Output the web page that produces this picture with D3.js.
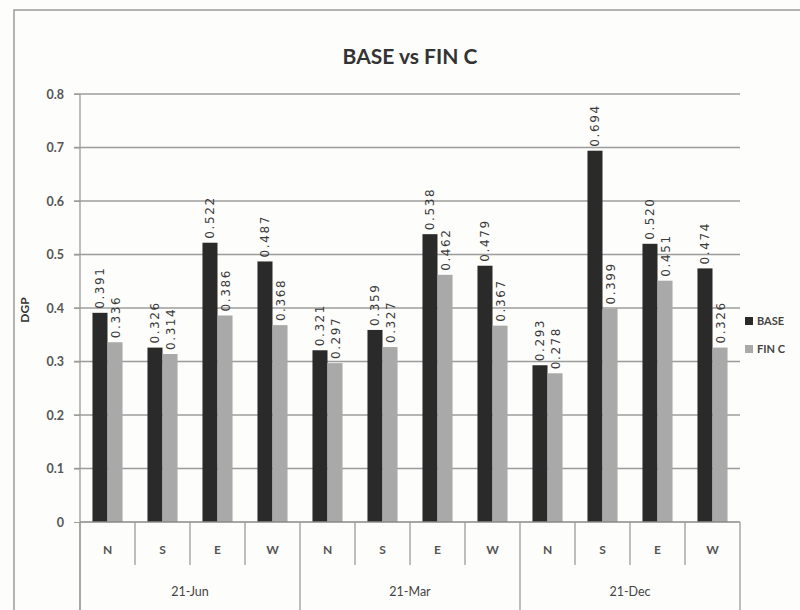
<!DOCTYPE html>
<html><head><meta charset="utf-8">
<script src="https://cdn.jsdelivr.net/npm/d3@7"></script>
<style>body{margin:0;background:#fdfdfb;} svg{display:block;}</style>
</head><body><svg id="c" width="800" height="610"></svg>
<script>
const groups = ["21-Jun", "21-Mar", "21-Dec"];
const directions = ["N", "S", "E", "W"];
const seriesNames = ["BASE", "FIN C"];
const baseValues = [0.391, 0.326, 0.522, 0.487, 0.321, 0.359, 0.538, 0.479, 0.293, 0.694, 0.520, 0.474];
const fincValues = [0.336, 0.314, 0.386, 0.368, 0.297, 0.327, 0.462, 0.367, 0.278, 0.399, 0.451, 0.326];
const yTicks = [0, 0.1, 0.2, 0.3, 0.4, 0.5, 0.6, 0.7, 0.8];
const colors = ["#2a2a2a", "#a9a9a9"];

const svg = d3.select("#c");
const font = "Lato, 'Open Sans', sans-serif";
const M = {l: 80, r: 740, t: 94, b: 522};

// outer frame
svg.append("rect").attr("x", 14).attr("y", 10).attr("width", 800).attr("height", 620)
  .attr("fill", "#fdfdfb").attr("stroke", "#9a9a9a").attr("stroke-width", 1.5);

const cats = [];
groups.forEach(g => directions.forEach(d => cats.push(g + "|" + d)));
const x = d3.scaleBand().domain(cats).range([M.l, M.r]);
const xs = d3.scaleBand().domain([0, 1]).range([0, x.bandwidth()]).paddingOuter(0.83).paddingInner(0);
const y = d3.scaleLinear().domain([0, 0.8]).range([M.b, M.t]);

// gridlines
svg.append("g").selectAll("line").data(yTicks.filter(t => t > 0)).join("line")
  .attr("x1", M.l - 6).attr("x2", M.r).attr("y1", d => y(d)).attr("y2", d => y(d))
  .attr("stroke", "#9c9c9c").attr("stroke-width", 1.3);

// y axis
const yAxis = d3.axisLeft(y).tickValues(yTicks).tickFormat(d => d === 0 ? "0" : d3.format(".1f")(d)).tickSize(6).tickPadding(10);
const ya = svg.append("g").attr("transform", `translate(${M.l},0)`).call(yAxis);
ya.select(".domain").remove();
ya.selectAll(".tick line").attr("stroke", "#9c9c9c");
ya.selectAll("text").attr("font-family", font).attr("font-size", 12.5).attr("font-weight", "bold").attr("fill", "#555");
svg.append("line").attr("x1", M.l).attr("x2", M.l).attr("y1", M.t).attr("y2", 612).attr("stroke", "#9c9c9c").attr("stroke-width", 1.3);

// bars
const data = [];
cats.forEach((c, i) => { data.push({c, s: 0, v: baseValues[i]}); data.push({c, s: 1, v: fincValues[i]}); });
svg.append("g").selectAll("rect").data(data).join("rect")
  .attr("x", d => x(d.c) + xs(d.s)).attr("width", xs.bandwidth())
  .attr("y", d => y(d.v)).attr("height", d => y(0) - y(d.v))
  .attr("fill", d => colors[d.s]);

// labels
svg.append("g").selectAll("text").data(data).join("text")
  .attr("transform", d => `translate(${x(d.c) + xs(d.s) + xs.bandwidth() / 2 + 4.5},${y(d.v) - 4}) rotate(-90)`)
  .attr("font-family", "'DejaVu Sans', sans-serif").attr("font-size", 12).attr("letter-spacing", 1.6)
  .attr("fill", "#3a3a3a").text(d => d3.format(".3f")(d.v));

// baseline
svg.append("line").attr("x1", M.l).attr("x2", M.r).attr("y1", M.b).attr("y2", M.b).attr("stroke", "#888").attr("stroke-width", 1.3);

// category separators
const bounds = cats.map(c => x(c)).concat([M.r]);
svg.append("g").selectAll("line").data(bounds).join("line")
  .attr("x1", d => d).attr("x2", d => d).attr("y1", M.b)
  .attr("y2", (d, i) => (i % 4 === 0) ? 612 : 565)
  .attr("stroke", "#9c9c9c").attr("stroke-width", 1.3);

svg.append("g").selectAll("text").data(cats).join("text")
  .attr("x", d => x(d) + x.bandwidth() / 2).attr("y", 554).attr("text-anchor", "middle")
  .attr("font-family", font).attr("font-size", 12).attr("font-weight", "bold").attr("fill", "#555")
  .text(d => d.split("|")[1]);

svg.append("g").selectAll("text").data(groups).join("text")
  .attr("x", g => (x(g + "|N") + x(g + "|W") + x.bandwidth()) / 2).attr("y", 596).attr("text-anchor", "middle")
  .attr("font-family", font).attr("font-size", 12.5).attr("fill", "#444")
  .text(g => g);

// y title
svg.append("text").attr("transform", "translate(29,310) rotate(-90)").attr("text-anchor", "middle")
  .attr("font-family", font).attr("font-size", 12).attr("font-weight", "bold").attr("fill", "#333").text("DGP");

// title
svg.append("text").attr("x", 410).attr("y", 64).attr("text-anchor", "middle")
  .attr("font-family", font).attr("font-size", 21).attr("font-weight", "bold").attr("fill", "#333").text("BASE vs FIN C");

// legend
const lg = svg.append("g").selectAll("g").data(seriesNames).join("g")
  .attr("transform", (d, i) => `translate(745,${322 + i * 28})`);
lg.append("rect").attr("x", 0).attr("y", -5).attr("width", 8).attr("height", 8).attr("fill", (d, i) => colors[i]);
lg.append("text").attr("x", 12).attr("y", 3).attr("font-family", font).attr("font-size", 11)
  .attr("font-weight", "bold").attr("fill", "#444").text(d => d);
</script></body></html>
